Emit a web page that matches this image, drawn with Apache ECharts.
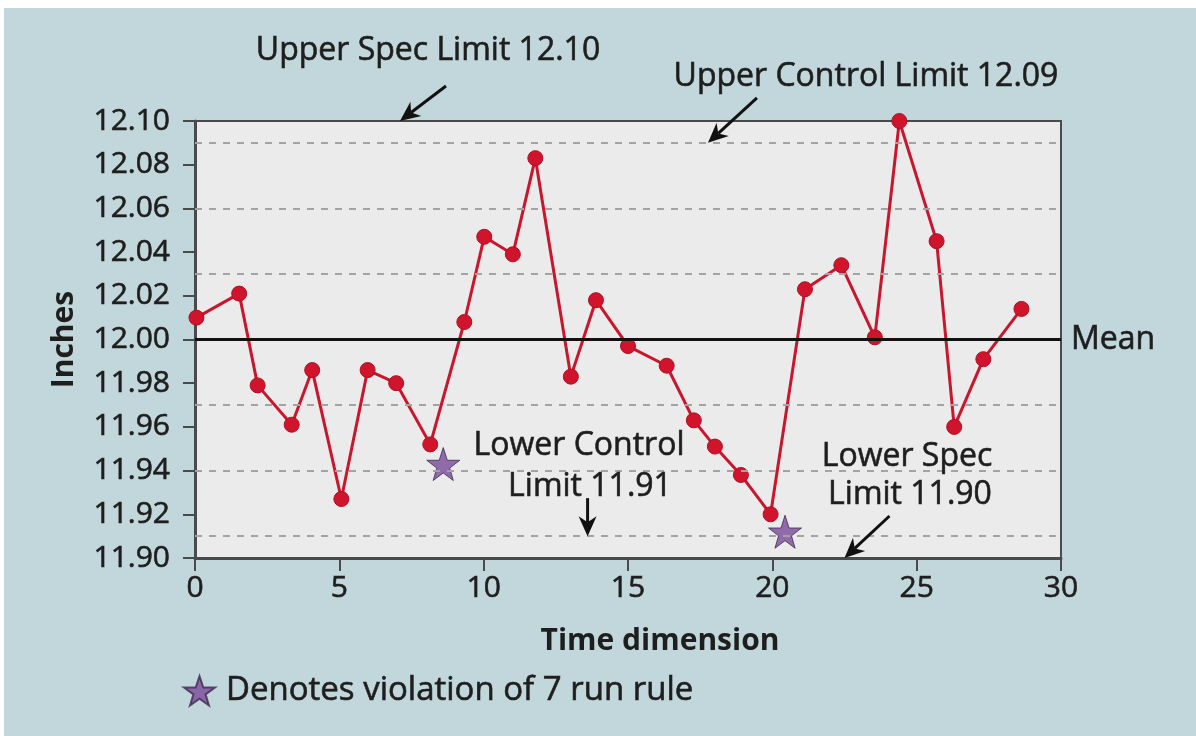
<!DOCTYPE html>
<html>
<head>
<meta charset="utf-8">
<script src="https://cdn.jsdelivr.net/npm/echarts@6/dist/echarts.min.js"></script>
<style>
  html, body { margin: 0; padding: 0; background: #ffffff; }
  #panel { position: absolute; left: 4px; top: 8px; right: 0; bottom: 0; background: #c2d7db; }
  #chart { position: absolute; left: 0; top: 0; width: 1196px; height: 736px; }
</style>
</head>
<body>
<div id="panel"></div>
<div id="chart"></div>
<script>
// Measurements over time (inches)
const timeValues = [0.05, 1.53, 2.17, 3.35, 4.06, 5.07, 5.98, 6.97, 8.15, 9.33,
                    10.02, 11.01, 11.79, 13.02, 13.89, 15.0, 16.34, 17.28, 18.01, 18.91,
                    19.94, 21.13, 22.39, 23.55, 24.40, 25.69, 26.30, 27.31, 28.63];
const inches = [12.010, 12.021, 11.979, 11.961, 11.986, 11.927, 11.986, 11.980, 11.952, 12.008,
                12.047, 12.039, 12.083, 11.983, 12.018, 11.997, 11.988, 11.963, 11.951, 11.938,
                11.920, 12.023, 12.034, 12.001, 12.100, 12.045, 11.960, 11.991, 12.014];

// Points flagged by the 7-run rule
const violationTimes = [8.6, 20.44];
const violationValues = [11.943, 11.912];

// Limits and zone lines
const meanValue = 12.00;
const upperSpec = 12.10;
const upperControl = 12.09;
const lowerControl = 11.91;
const lowerSpec = 11.90;
const zoneLines = [12.09, 12.06, 12.03, 11.97, 11.94, 11.91];

// Axis ticks
const xTicks = { min: 0, max: 30, interval: 5 };
const yTicks = { min: 11.90, max: 12.10, interval: 0.02 };

const FONT = '"Open Sans", "Noto Sans", sans-serif';
const TEXT = '#1e1e1e';
const NOTE_SIZE = 32;
const STAR = 'path://M50,0 L61.8,35.1 L98.1,35.1 L68.8,56.7 L79.4,91 L50,70 L20.6,91 L31.2,56.7 L1.9,35.1 L38.2,35.1 Z';

const chart = echarts.init(document.getElementById('chart'), null, { renderer: 'canvas' });

const option = {
  backgroundColor: 'transparent',
  animation: false,
  grid: {
    left: 195, top: 121, right: 135, bottom: 178,
    show: true,
    backgroundColor: '#ebebeb',
    borderColor: '#4a4a4a',
    borderWidth: 2
  },
  xAxis: {
    type: 'value',
    min: xTicks.min, max: xTicks.max, interval: xTicks.interval,
    name: 'Time dimension',
    nameLocation: 'middle',
    nameGap: 68,
    nameTextStyle: { fontFamily: FONT, fontSize: 30, fontWeight: 'bold', color: TEXT, padding: [0, 0, 0, 64] },
    axisLine: { show: true, onZero: false, lineStyle: { color: '#4a4a4a', width: 3 } },
    axisTick: { show: true, inside: false, length: 13, lineStyle: { color: '#4a4a4a', width: 2 } },
    axisLabel: { fontFamily: FONT, fontSize: 30, color: TEXT, margin: 15,
                 textBorderColor: TEXT, textBorderWidth: 0.6 },
    splitLine: { show: false }
  },
  yAxis: {
    type: 'value',
    min: yTicks.min, max: yTicks.max, interval: yTicks.interval,
    name: 'Inches',
    nameLocation: 'middle',
    nameGap: 116,
    nameTextStyle: { fontFamily: FONT, fontSize: 30, fontWeight: 'bold', color: TEXT },
    axisLine: { show: true, onZero: false, lineStyle: { color: '#4a4a4a', width: 3 } },
    axisTick: { show: true, inside: false, length: 12, lineStyle: { color: '#4a4a4a', width: 2 } },
    axisLabel: {
      fontFamily: FONT, fontSize: 30, color: TEXT, margin: 25,
      textBorderColor: TEXT, textBorderWidth: 0.6,
      formatter: v => v.toFixed(2)
    },
    splitLine: { show: false }
  },
  legend: {
    left: 178, top: 669,
    itemWidth: 31, itemHeight: 31,
    textStyle: { fontFamily: FONT, fontSize: 33, color: TEXT, padding: [0, 0, 0, 6],
                 textBorderColor: TEXT, textBorderWidth: 0.6 },
    data: [{ name: 'Denotes violation of 7 run rule', icon: STAR }]
  },
  series: [
    {
      name: 'limits',
      type: 'line',
      data: [],
      z: 1,
      silent: true,
      markLine: {
        silent: true,
        symbol: 'none',
        label: { show: false },
        data: zoneLines.map(v => ({ yAxis: v, lineStyle: { color: '#a3a3a3', width: 2, type: [7, 7] } }))
          .concat([{ yAxis: meanValue, lineStyle: { color: '#111111', width: 3, type: 'solid' } }])
      }
    },
    {
      name: 'Measurements',
      type: 'line',
      z: 3,
      data: timeValues.map((t, i) => [t, inches[i]]),
      symbol: 'circle',
      symbolSize: 15,
      lineStyle: { color: '#c9162c', width: 3 },
      itemStyle: { color: '#d0142c', borderColor: '#b01025', borderWidth: 1 },
      clip: false
    },
    {
      name: 'Denotes violation of 7 run rule',
      type: 'scatter',
      z: 4,
      data: violationTimes.map((t, i) => [t, violationValues[i]]),
      symbol: STAR,
      symbolSize: 33,
      itemStyle: { color: '#7a4b98', borderColor: '#3c2b4c', borderWidth: 1 }
    }
  ]
};

chart.setOption(option);

// Callout arrows: tip sits on a limit line, tail offset in pixels
const arrows = [
  { tip: [7.1, upperSpec], tail: [46, -35] },
  { tip: [17.77, upperControl], tail: [49, -45] },
  { tip: [13.6, lowerControl], tail: [0, -38] },
  { tip: [22.5, lowerSpec], tail: [45, -42] }
];

function arrowShapes(tip, tail) {
  const dx = tip[0] - tail[0], dy = tip[1] - tail[1];
  const len = Math.hypot(dx, dy);
  const ux = dx / len, uy = dy / len;
  const hl = 20, hw = 9;
  const bx = tip[0] - ux * hl, by = tip[1] - uy * hl;
  const nx = tip[0] - ux * (hl - 6), ny = tip[1] - uy * (hl - 6);
  return [
    { type: 'line', z: 10, silent: true,
      shape: { x1: tail[0], y1: tail[1], x2: nx, y2: ny },
      style: { stroke: '#111', lineWidth: 3 } },
    { type: 'polygon', z: 10, silent: true,
      shape: { points: [tip, [bx - uy * hw, by + ux * hw], [nx, ny], [bx + uy * hw, by - ux * hw]] },
      style: { fill: '#111' } }
  ];
}

function label(text, x, y, align) {
  return {
    type: 'text', z: 10, silent: true, x: x, y: y,
    style: {
      text: text, fill: TEXT, font: NOTE_SIZE + 'px ' + FONT,
      stroke: TEXT, lineWidth: 0.6,
      textAlign: align || 'center', textVerticalAlign: 'middle'
    }
  };
}

const graphics = [];
arrows.forEach(a => {
  const p = chart.convertToPixel({ gridIndex: 0 }, a.tip);
  graphics.push(...arrowShapes(p, [p[0] + a.tail[0], p[1] + a.tail[1]]));
});

const meanY = chart.convertToPixel({ gridIndex: 0 }, [30, meanValue]);
graphics.push(
  label('Upper Spec Limit 12.10', 428, 51),
  label('Upper Control Limit 12.09', 866, 77),
  label('Mean', meanY[0] + 10, meanY[1], 'left'),
  label('Lower Control', 579, 446),
  label('Limit 11.91', 590, 487),
  label('Lower Spec', 907, 457),
  label('Limit 11.90', 910, 495)
);

chart.setOption({ graphic: graphics });
</script>
</body>
</html>
